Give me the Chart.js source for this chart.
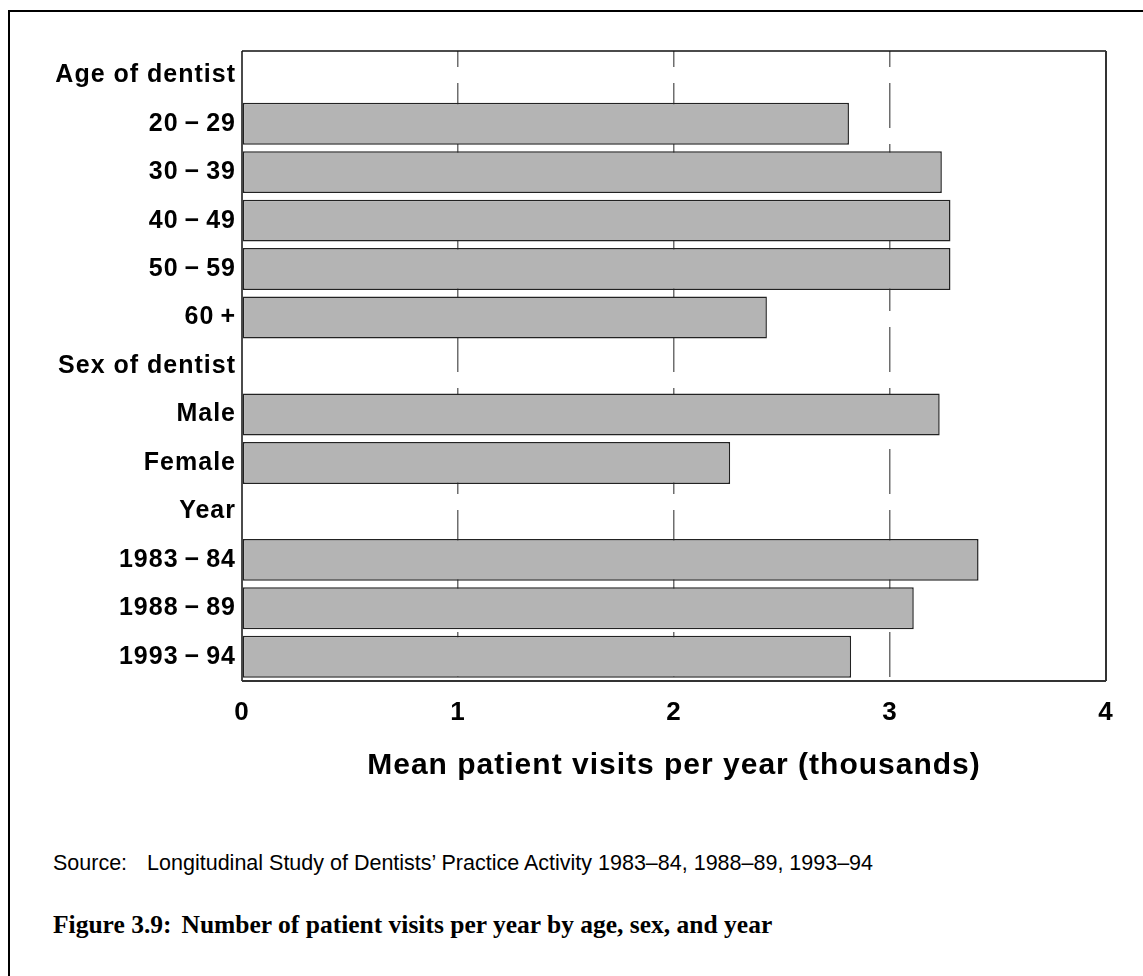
<!DOCTYPE html>
<html>
<head>
<meta charset="utf-8">
<script src="https://cdn.jsdelivr.net/npm/chart.js@4.4.1/dist/chart.umd.min.js"></script>
<style>
  html, body { margin:0; padding:0; background:#fff; }
  body { width:1143px; height:976px; position:relative; overflow:hidden; }
  #frame { position:absolute; left:8px; top:10px; width:1200px; height:1000px;
           border-left:2px solid #000; border-top:2px solid #000; box-sizing:border-box; }
  #wrap { position:absolute; left:0; top:0; width:1143px; height:800px; }
  .note { position:absolute; left:53px; white-space:nowrap; color:#000; }
  #source { top:851px; font-family:"Liberation Sans", Arial, sans-serif; font-size:21.5px; line-height:24px; }
  #caption { top:910px; font-family:"Liberation Serif", "Times New Roman", serif; font-weight:bold; font-size:25.5px; line-height:30px; }
  .gap1 { display:inline-block; width:20px; }
  .gap2 { display:inline-block; width:10px; }
</style>
</head>
<body>
<div id="frame"></div>
<div id="wrap"><canvas id="c" width="1143" height="800"></canvas></div>
<div id="source" class="note">Source:<span class="gap1"></span>Longitudinal Study of Dentists’ Practice Activity 1983–84, 1988–89, 1993–94</div>
<div id="caption" class="note">Figure 3.9:<span class="gap2"></span>Number of patient visits per year by age, sex, and year</div>
<script>
const categories = [
  "Age of dentist", "20\u2009\u2212\u200929", "30\u2009\u2212\u200939", "40\u2009\u2212\u200949", "50\u2009\u2212\u200959", "60\u2009+",
  "Sex of dentist", "Male", "Female",
  "Year", "1983\u2009\u2212\u200984", "1988\u2009\u2212\u200989", "1993\u2009\u2212\u200994"
];
const visits = [null, 2.81, 3.24, 3.28, 3.28, 2.43, null, 3.23, 2.26, null, 3.41, 3.11, 2.82];
const xTicks = [0, 1, 2, 3, 4];
const xTitle = "Mean patient visits per year (thousands)";

const spacingPlugin = {
  id: 'spacing',
  beforeUpdate(chart) { chart.ctx.letterSpacing = '1px'; },
  beforeLayout(chart) { chart.ctx.letterSpacing = '1px'; },
  beforeDraw(chart) { chart.ctx.letterSpacing = '1px'; },
  afterDraw(chart) {
    const {ctx, chartArea:a} = chart;
    ctx.save();
    ctx.strokeStyle = '#111';
    ctx.lineWidth = 1.5;
    ctx.beginPath();
    ctx.moveTo(a.left, a.top); ctx.lineTo(a.right, a.top);
    ctx.moveTo(a.left, a.top); ctx.lineTo(a.left, a.bottom);
    ctx.stroke();
    ctx.strokeStyle = '#333';
    ctx.lineWidth = 2;
    ctx.beginPath();
    ctx.moveTo(a.right, a.top); ctx.lineTo(a.right, a.bottom);
    ctx.moveTo(a.left, a.bottom); ctx.lineTo(a.right, a.bottom);
    ctx.stroke();
    ctx.restore();
  }
};

new Chart(document.getElementById('c'), {
  type: 'bar',
  data: {
    labels: categories,
    datasets: [{
      data: visits,
      backgroundColor: '#b4b4b4',
      borderColor: '#222',
      borderWidth: 1.5,
      borderSkipped: false,
      barPercentage: 0.865,
      categoryPercentage: 1.0
    }]
  },
  options: {
    indexAxis: 'y',
    responsive: false,
    animation: false,
    events: [],
    layout: { padding: { left: 0, right: 37, top: 51, bottom: 0 } },
    plugins: { legend: { display:false }, tooltip: { enabled:false } },
    scales: {
      x: {
        type: 'linear',
        min: 0, max: 4,
        afterBuildTicks(scale) { scale.ticks = xTicks.map(v => ({value: v})); },
        afterFit(scale) { scale.height = 119; },
        ticks: {
          color: '#000',
          padding: 16,
          font: { family: '"Liberation Sans", Arial, sans-serif', weight: 'bold', size: 26 }
        },
        grid: {
          drawTicks: false,
          color: ctx => (ctx.tick && (ctx.tick.value === 0 || ctx.tick.value === 4)) ? 'rgba(0,0,0,0)' : '#6e6e6e',
          lineWidth: 1.5
        },
        border: { display:false, dash: [45, 16], dashOffset: 29 },
        title: {
          display: true,
          text: xTitle,
          color: '#000',
          font: { family: '"Liberation Sans", Arial, sans-serif', weight: 'bold', size: 30 },
          padding: { top: 0, bottom: 16 }
        }
      },
      y: {
        afterFit(scale) { scale.width = 242; },
        ticks: {
          color: '#000',
          padding: 6,
          font: { family: '"Liberation Sans", Arial, sans-serif', weight: 'bold', size: 25 }
        },
        grid: { display:false, drawTicks:false },
        border: { display:false }
      }
    }
  },
  plugins: [spacingPlugin]
});
</script>
</body>
</html>
